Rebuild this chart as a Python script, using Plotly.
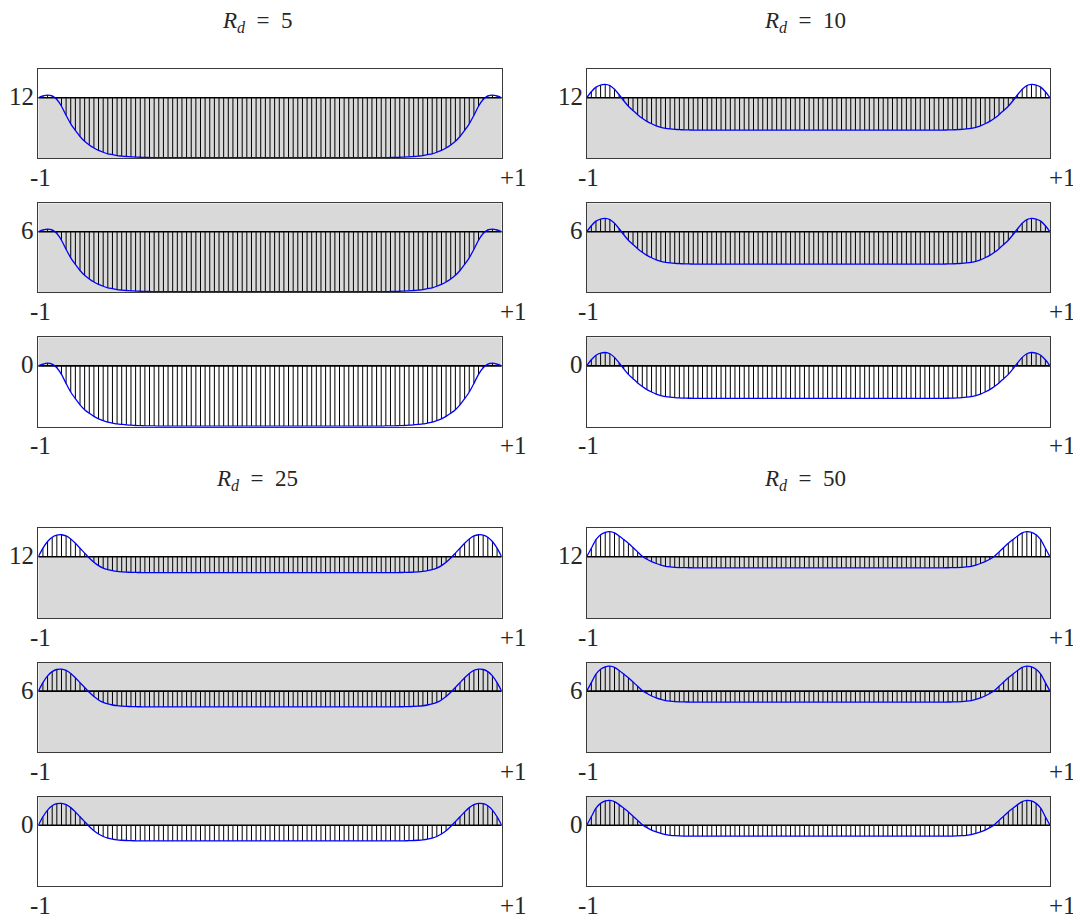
import numpy as np
import plotly.graph_objects as go

# ---------------- data ----------------
x_vals = np.linspace(-1, 1, 101)
rd_values = [5, 10, 25, 50]
levels = [12, 6, 0]
x_tick_text = ["-1", "+1"]

profile_rd5 = [
    0.00, 0.03, 0.045, 0.03, -0.03, -0.14, -0.29, -0.43, -0.54, -0.64,
    -0.72, -0.78, -0.83, -0.87, -0.90, -0.925, -0.94, -0.955, -0.963, -0.97,
    -0.975, -0.98, -0.983, -0.985, -0.987, -0.988, -0.99, -0.99, -0.99, -0.99,
    -0.99, -0.99, -0.99, -0.99, -0.99, -0.99, -0.99, -0.99, -0.99, -0.99,
    -0.99, -0.99, -0.99, -0.99, -0.99, -0.99, -0.99, -0.99, -0.99, -0.99,
    -0.99, -0.99, -0.99, -0.99, -0.99, -0.99, -0.99, -0.99, -0.99, -0.99,
    -0.99, -0.99, -0.99, -0.99, -0.99, -0.99, -0.99, -0.99, -0.99, -0.99,
    -0.99, -0.99, -0.99, -0.99, -0.99, -0.988, -0.987, -0.985, -0.983, -0.98,
    -0.975, -0.97, -0.963, -0.955, -0.94, -0.925, -0.90, -0.87, -0.83, -0.78,
    -0.72, -0.64, -0.54, -0.43, -0.29, -0.14, -0.03, 0.03, 0.045, 0.03,
    0.00,
]

profile_rd10 = [
    0.00, 0.10, 0.175, 0.21, 0.22, 0.20, 0.14, 0.05, -0.05, -0.14,
    -0.21, -0.28, -0.34, -0.39, -0.43, -0.465, -0.49, -0.505, -0.515, -0.522,
    -0.527, -0.53, -0.532, -0.533, -0.534, -0.535, -0.535, -0.535, -0.535, -0.535,
    -0.535, -0.535, -0.535, -0.535, -0.535, -0.535, -0.535, -0.535, -0.535, -0.535,
    -0.535, -0.535, -0.535, -0.535, -0.535, -0.535, -0.535, -0.535, -0.535, -0.535,
    -0.535, -0.535, -0.535, -0.535, -0.535, -0.535, -0.535, -0.535, -0.535, -0.535,
    -0.535, -0.535, -0.535, -0.535, -0.535, -0.535, -0.535, -0.535, -0.535, -0.535,
    -0.535, -0.535, -0.535, -0.535, -0.535, -0.535, -0.534, -0.533, -0.532, -0.53,
    -0.527, -0.522, -0.515, -0.505, -0.49, -0.465, -0.43, -0.39, -0.34, -0.28,
    -0.21, -0.14, -0.05, 0.05, 0.14, 0.20, 0.22, 0.21, 0.175, 0.10,
    0.00,
]

profile_rd25 = [
    0.00, 0.14, 0.25, 0.32, 0.355, 0.36, 0.34, 0.29, 0.22, 0.14,
    0.06, -0.02, -0.09, -0.145, -0.185, -0.21, -0.228, -0.24, -0.247, -0.251,
    -0.254, -0.256, -0.257, -0.258, -0.258, -0.258, -0.258, -0.258, -0.258, -0.258,
    -0.258, -0.258, -0.258, -0.258, -0.258, -0.258, -0.258, -0.258, -0.258, -0.258,
    -0.258, -0.258, -0.258, -0.258, -0.258, -0.258, -0.258, -0.258, -0.258, -0.258,
    -0.258, -0.258, -0.258, -0.258, -0.258, -0.258, -0.258, -0.258, -0.258, -0.258,
    -0.258, -0.258, -0.258, -0.258, -0.258, -0.258, -0.258, -0.258, -0.258, -0.258,
    -0.258, -0.258, -0.258, -0.258, -0.258, -0.258, -0.258, -0.258, -0.257, -0.256,
    -0.254, -0.251, -0.247, -0.24, -0.228, -0.21, -0.185, -0.145, -0.09, -0.02,
    0.06, 0.14, 0.22, 0.29, 0.34, 0.36, 0.355, 0.32, 0.25, 0.14,
    0.00,
]

profile_rd50 = [
    0.00, 0.14, 0.28, 0.36, 0.40, 0.41, 0.39, 0.34, 0.28, 0.22,
    0.15, 0.08, 0.01, -0.04, -0.08, -0.11, -0.135, -0.155, -0.165, -0.172,
    -0.176, -0.178, -0.179, -0.18, -0.18, -0.18, -0.18, -0.18, -0.18, -0.18,
    -0.18, -0.18, -0.18, -0.18, -0.18, -0.18, -0.18, -0.18, -0.18, -0.18,
    -0.18, -0.18, -0.18, -0.18, -0.18, -0.18, -0.18, -0.18, -0.18, -0.18,
    -0.18, -0.18, -0.18, -0.18, -0.18, -0.18, -0.18, -0.18, -0.18, -0.18,
    -0.18, -0.18, -0.18, -0.18, -0.18, -0.18, -0.18, -0.18, -0.18, -0.18,
    -0.18, -0.18, -0.18, -0.18, -0.18, -0.18, -0.18, -0.18, -0.179, -0.178,
    -0.176, -0.172, -0.165, -0.155, -0.135, -0.11, -0.08, -0.04, 0.01, 0.08,
    0.15, 0.22, 0.28, 0.34, 0.39, 0.41, 0.40, 0.36, 0.28, 0.14,
    0.00,
]

profiles = [profile_rd5, profile_rd10, profile_rd25, profile_rd50]

# ---------------- layout geometry (page pixels) ----------------
OFF = 8                      # default page body margin
W, H = 1081 - OFF, 917 - OFF  # figure size so that it ends at the window edge
col_px = [(38.3, 501.7), (586.7, 1050.0)]
row_px = [
    [(69.3, 158.3), (203.3, 292.3), (337.3, 426.7)],
    [(528.0, 618.0), (662.5, 752.0), (796.7, 886.0)],
]
title_py = [22, 480]
SPAN_UP, SPAN_DOWN = 0.47, 1.0
GRAY = "#d9d9d9"
TXT = "#262626"
FONT = "Liberation Serif"


def fx(px):
    return (px - OFF) / W


def fy(py):
    return 1 - (py - OFF) / H


fig = go.Figure()
layout = dict(
    width=W, height=H,
    margin=dict(l=0, r=0, t=0, b=0, pad=0),
    paper_bgcolor="white", plot_bgcolor="white",
    showlegend=False,
)
annotations = []
shapes = []

n = 0
for g, prof in enumerate(profiles):
    c = g % 2
    gr = g // 2
    x0p, x1p = col_px[c]
    for r, lvl in enumerate(levels):
        n += 1
        sfx = "" if n == 1 else str(n)
        xref, yref = "x" + sfx, "y" + sfx
        t_px, b_px = row_px[gr][r]
        ylo, yhi = lvl - SPAN_DOWN, lvl + SPAN_UP

        layout["xaxis" + sfx] = dict(
            domain=[fx(x0p), fx(x1p)], range=[-1, 1], anchor=yref,
            showline=True, mirror=True, linecolor="#3a3a3a", linewidth=1,
            showgrid=False, zeroline=False, showticklabels=False, ticks="",
            fixedrange=True,
        )
        layout["yaxis" + sfx] = dict(
            domain=[fy(b_px), fy(t_px)], range=[ylo, yhi], anchor=xref,
            showline=True, mirror=True, linecolor="#3a3a3a", linewidth=1,
            showgrid=False, zeroline=False, showticklabels=False, ticks="",
            fixedrange=True,
        )

        # gray band
        if r == 0:
            gy0, gy1 = ylo, lvl
        elif r == 1:
            gy0, gy1 = ylo, yhi
        else:
            gy0, gy1 = lvl, yhi
        shapes.append(dict(type="rect", xref=xref, yref=yref, x0=-1, x1=1,
                           y0=gy0, y1=gy1, fillcolor=GRAY, line=dict(width=0),
                           layer="below"))

        # hatch lines
        hx, hy = [], []
        for xv, fv in zip(x_vals, prof):
            hx += [xv, xv, None]
            hy += [lvl, lvl + fv, None]
        fig.add_trace(go.Scatter(x=hx, y=hy, mode="lines", xaxis=xref, yaxis=yref,
                                 line=dict(color="black", width=1),
                                 hoverinfo="skip"))
        # level line
        fig.add_trace(go.Scatter(x=[-1, 1], y=[lvl, lvl], mode="lines",
                                 xaxis=xref, yaxis=yref,
                                 line=dict(color="black", width=1.6),
                                 hoverinfo="skip"))
        # profile
        fig.add_trace(go.Scatter(x=x_vals, y=[lvl + v for v in prof], mode="lines",
                                 xaxis=xref, yaxis=yref,
                                 line=dict(color="#0000ff", width=1.3,
                                           shape="spline", smoothing=0.6)))

        # tick labels
        annotations.append(dict(text=x_tick_text[0], xref=xref, yref=yref + " domain",
                                x=-1, y=0, xanchor="center", yanchor="middle",
                                xshift=2, yshift=-19, showarrow=False,
                                font=dict(family=FONT, size=25, color=TXT)))
        annotations.append(dict(text=x_tick_text[1], xref=xref, yref=yref + " domain",
                                x=1, y=0, xanchor="center", yanchor="middle",
                                xshift=12, yshift=-19, showarrow=False,
                                font=dict(family=FONT, size=25, color=TXT)))
        annotations.append(dict(text=str(lvl), xref=xref + " domain", yref=yref,
                                x=0, y=lvl, xanchor="right", yanchor="middle",
                                xshift=-2, yshift=1, showarrow=False,
                                font=dict(family=FONT, size=25, color=TXT)))

    # title
    cx = (x0p + x1p) / 2 - 13
    annotations.append(dict(
        text="<i>R</i><sub><i>d</i></sub>&nbsp;&nbsp;=&nbsp;&nbsp;" + str(rd_values[g]),
        xref="paper", yref="paper", x=fx(cx), y=fy(title_py[gr]),
        xanchor="center", yanchor="middle", showarrow=False,
        font=dict(family=FONT, size=23, color=TXT)))

layout["annotations"] = annotations
layout["shapes"] = shapes
fig.update_layout(**layout)
fig.write_html("out.html")
